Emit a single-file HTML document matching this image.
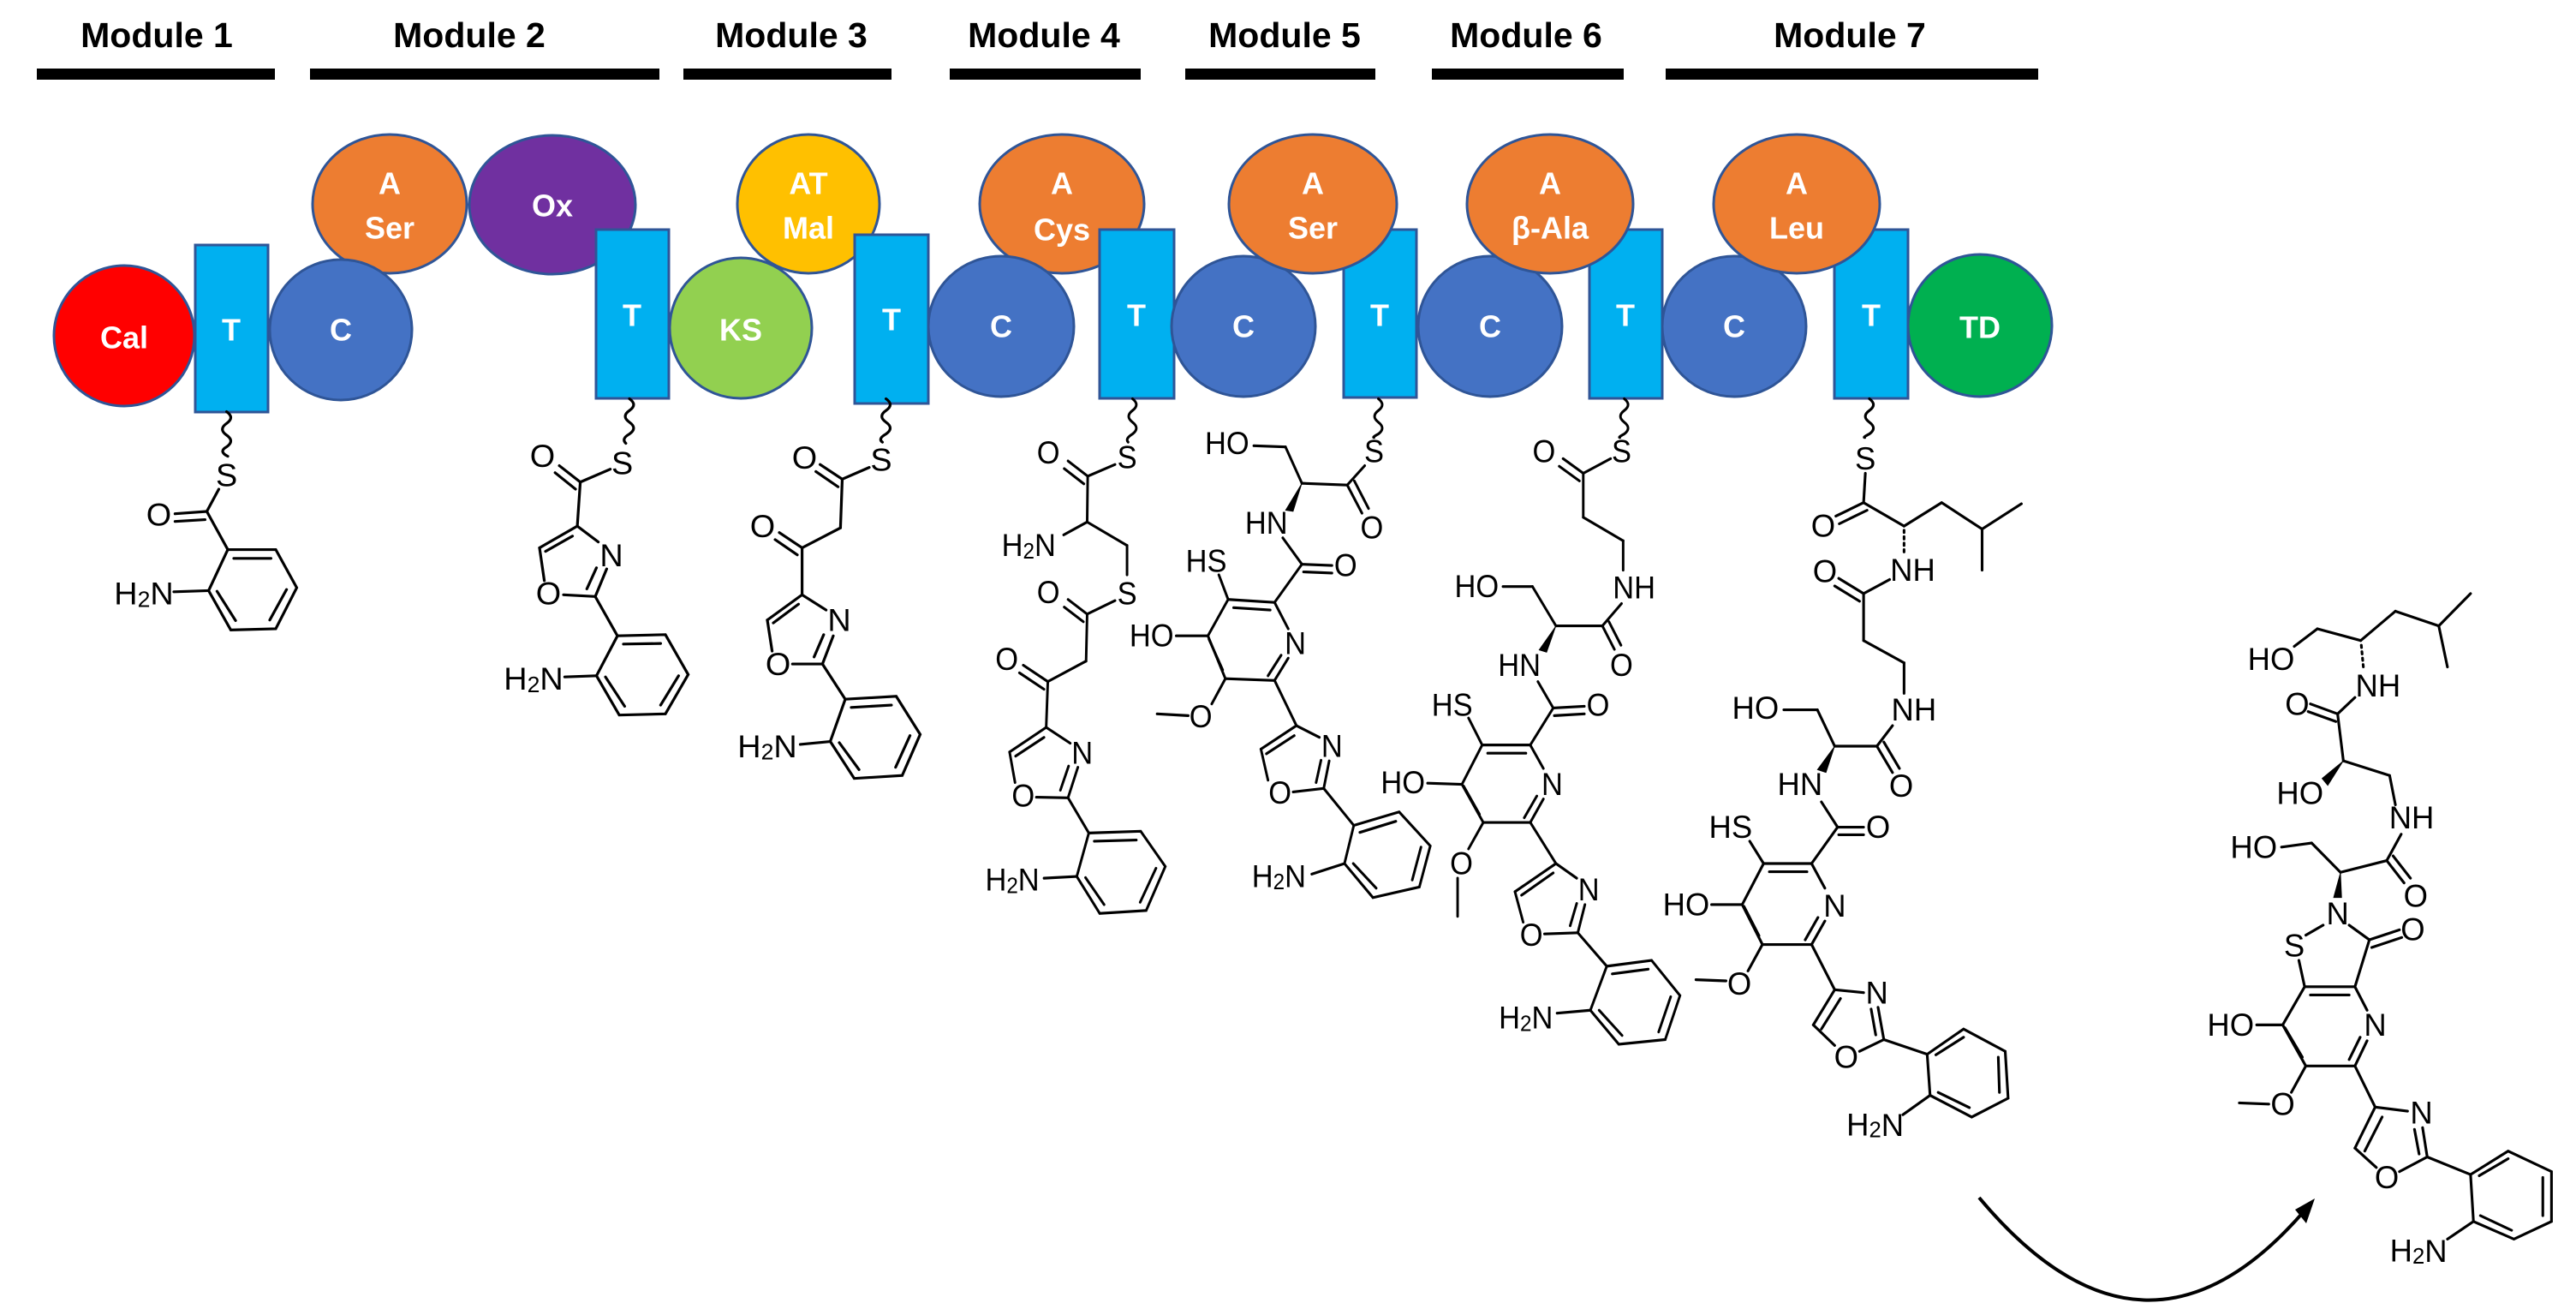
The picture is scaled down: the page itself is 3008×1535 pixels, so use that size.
<!DOCTYPE html>
<html><head><meta charset="utf-8"><style>
html,body{margin:0;padding:0;background:#fff}
svg{display:block}
.mt{font-family:"Liberation Sans",sans-serif;font-size:41px;font-weight:bold;fill:#000;text-anchor:middle}
.dl{font-family:"Liberation Sans",sans-serif;font-size:36px;font-weight:bold;fill:#fff;text-anchor:middle;dominant-baseline:central}
.c text{font-family:"Liberation Sans",sans-serif;font-size:54px;fill:#000;text-anchor:middle;dominant-baseline:central}
.c line,.c path,.c polyline,.c polygon{stroke:#000;stroke-width:4.6;fill:none;stroke-linecap:round}
.c polygon.w{fill:#000;stroke-width:1}
.c .h{stroke-dasharray:4 7}
</style></head><body>
<svg width="3008" height="1535" viewBox="0 0 3008 1535" xmlns="http://www.w3.org/2000/svg">
<g>
<text class="mt" x="183" y="55">Module 1</text>
<text class="mt" x="548" y="55">Module 2</text>
<text class="mt" x="924" y="55">Module 3</text>
<text class="mt" x="1219" y="55">Module 4</text>
<text class="mt" x="1500" y="55">Module 5</text>
<text class="mt" x="1782" y="55">Module 6</text>
<text class="mt" x="2160" y="55">Module 7</text>
<rect x="43" y="80" width="278" height="13"/>
<rect x="362" y="80" width="408" height="13"/>
<rect x="798" y="80" width="243" height="13"/>
<rect x="1109" y="80" width="223" height="13"/>
<rect x="1384" y="80" width="222" height="13"/>
<rect x="1672" y="80" width="224" height="13"/>
<rect x="1945" y="80" width="435" height="13"/>
</g>
<g stroke="#2f5597" stroke-width="3">
<ellipse cx="455" cy="238" rx="90" ry="81" fill="#ed7d31"/>
<ellipse cx="645" cy="239" rx="97" ry="81" fill="#7030a0"/>
<ellipse cx="944" cy="238" rx="83" ry="81" fill="#ffc000"/>
<ellipse cx="1240" cy="238" rx="96" ry="81" fill="#ed7d31"/>
<ellipse cx="145" cy="392" rx="82" ry="82" fill="#ff0000"/>
<rect x="228" y="286" width="85" height="195" fill="#00b0f0"/>
<ellipse cx="398" cy="385" rx="83" ry="82" fill="#4472c4"/>
<rect x="696" y="268" width="85" height="197" fill="#00b0f0"/>
<ellipse cx="865" cy="383" rx="83" ry="82" fill="#92d050"/>
<rect x="998" y="274" width="86" height="197" fill="#00b0f0"/>
<ellipse cx="1169" cy="381" rx="85" ry="82" fill="#4472c4"/>
<rect x="1284" y="268" width="87" height="197" fill="#00b0f0"/>
<ellipse cx="1452" cy="381" rx="84" ry="82" fill="#4472c4"/>
<rect x="1569" y="268" width="85" height="196" fill="#00b0f0"/>
<ellipse cx="1533" cy="238" rx="98" ry="81" fill="#ed7d31"/>
<ellipse cx="1740" cy="381" rx="84" ry="82" fill="#4472c4"/>
<rect x="1856" y="268" width="85" height="197" fill="#00b0f0"/>
<ellipse cx="1810" cy="238" rx="97" ry="81" fill="#ed7d31"/>
<ellipse cx="2025" cy="381" rx="84" ry="82" fill="#4472c4"/>
<rect x="2142" y="268" width="86" height="197" fill="#00b0f0"/>
<ellipse cx="2098" cy="238" rx="97" ry="81" fill="#ed7d31"/>
<ellipse cx="2312" cy="380" rx="84" ry="83" fill="#00b050"/>
</g>
<g>
<text class="dl" x="145" y="394">Cal</text>
<text class="dl" x="270" y="385">T</text>
<text class="dl" x="398" y="385">C</text>
<text class="dl" x="455" y="214">A</text>
<text class="dl" x="455" y="266">Ser</text>
<text class="dl" x="645" y="240">Ox</text>
<text class="dl" x="738" y="368">T</text>
<text class="dl" x="865" y="385">KS</text>
<text class="dl" x="944" y="214">AT</text>
<text class="dl" x="944" y="266">Mal</text>
<text class="dl" x="1041" y="373">T</text>
<text class="dl" x="1169" y="381">C</text>
<text class="dl" x="1240" y="214">A</text>
<text class="dl" x="1240" y="268">Cys</text>
<text class="dl" x="1327" y="368">T</text>
<text class="dl" x="1452" y="381">C</text>
<text class="dl" x="1533" y="214">A</text>
<text class="dl" x="1533" y="266">Ser</text>
<text class="dl" x="1611" y="368">T</text>
<text class="dl" x="1740" y="381">C</text>
<text class="dl" x="1810" y="214">A</text>
<text class="dl" x="1810" y="266">β-Ala</text>
<text class="dl" x="1898" y="368">T</text>
<text class="dl" x="2025" y="381">C</text>
<text class="dl" x="2098" y="214">A</text>
<text class="dl" x="2098" y="266">Leu</text>
<text class="dl" x="2185" y="368">T</text>
<text class="dl" x="2312" y="382">TD</text>
</g>

<g class="c" transform="translate(0,460) scale(0.70,0.685)">
<path d="M378,30 q14,10 0,20 q-14,10 0,20 q14,10 0,20 q-14,8 2,16"/>
<text x="378" y="138">S</text>
<line x1="365" y1="162" x2="345" y2="200"/>
<text x="265" y="205">O</text>
<line x1="345" y1="200" x2="292" y2="204"/><line x1="342" y1="214" x2="292" y2="217"/>
<line x1="345" y1="200" x2="380" y2="265"/>
<polygon points="380,265 460,265 495,330 460,400 385,402 348,335"/>
<line x1="390" y1="280" x2="452" y2="280"/><line x1="478" y1="333" x2="450" y2="385"/><line x1="393" y1="386" x2="362" y2="336"/>
<line x1="290" y1="337" x2="348" y2="335"/>
<text x="240" y="340">H<tspan font-size="38" dy="10">2</tspan><tspan dy="-10">N</tspan></text>
<path d="M1050,8 q14,10 0,20 q-14,10 0,20 q14,10 0,20 q-14,8 -6,16"/>
<text x="1038" y="118">S</text>
<line x1="1018" y1="128" x2="968" y2="150"/>
<text x="905" y="105">O</text>
<line x1="968" y1="150" x2="933" y2="122"/><line x1="960" y1="162" x2="926" y2="134"/>
<line x1="968" y1="150" x2="963" y2="225"/>
<text x="1020" y="275">N</text><text x="915" y="340">O</text>
<line x1="963" y1="225" x2="998" y2="252"/>
<line x1="963" y1="225" x2="900" y2="262"/><line x1="955" y1="242" x2="910" y2="268"/>
<line x1="900" y1="262" x2="908" y2="318"/>
<line x1="940" y1="342" x2="993" y2="345"/>
<line x1="993" y1="345" x2="1012" y2="298"/><line x1="979" y1="332" x2="995" y2="296"/>
<line x1="993" y1="345" x2="1030" y2="412"/>
<polygon points="1030,412 1110,410 1148,478 1110,545 1033,547 995,480"/>
<line x1="1040" y1="426" x2="1102" y2="425"/><line x1="1132" y1="480" x2="1102" y2="530"/><line x1="1042" y1="532" x2="1010" y2="482"/>
<line x1="942" y1="482" x2="995" y2="480"/>
<text x="890" y="485">H<tspan font-size="38" dy="10">2</tspan><tspan dy="-10">N</tspan></text>
<path d="M1478,8 q14,10 0,20 q-14,10 0,20 q14,10 0,20 q-14,8 -6,14"/>
<text x="1470" y="112">S</text>
<line x1="1450" y1="125" x2="1405" y2="145"/>
<text x="1342" y="108">O</text>
<line x1="1405" y1="145" x2="1368" y2="120"/><line x1="1398" y1="158" x2="1361" y2="132"/>
<line x1="1405" y1="145" x2="1402" y2="228"/>
<line x1="1402" y1="228" x2="1338" y2="262"/>
<text x="1272" y="225">O</text>
<line x1="1338" y1="262" x2="1300" y2="236"/><line x1="1330" y1="274" x2="1293" y2="248"/>
<line x1="1338" y1="262" x2="1338" y2="342"/>
<text x="1400" y="385">N</text><text x="1298" y="460">O</text>
<line x1="1338" y1="342" x2="1378" y2="368"/>
<line x1="1338" y1="342" x2="1280" y2="385"/><line x1="1332" y1="358" x2="1290" y2="390"/>
<line x1="1280" y1="385" x2="1288" y2="438"/>
<line x1="1322" y1="460" x2="1372" y2="460"/>
<line x1="1372" y1="460" x2="1390" y2="412"/><line x1="1358" y1="448" x2="1374" y2="410"/>
<line x1="1372" y1="460" x2="1410" y2="520"/>
<polygon points="1410,520 1495,515 1535,580 1505,650 1425,655 1385,592"/>
<line x1="1420" y1="534" x2="1487" y2="530"/><line x1="1518" y1="582" x2="1494" y2="636"/><line x1="1433" y1="640" x2="1400" y2="594"/>
<line x1="1335" y1="597" x2="1385" y2="592"/>
<text x="1280" y="600">H<tspan font-size="38" dy="10">2</tspan><tspan dy="-10">N</tspan></text>
</g>

<g class="c" transform="translate(1080,460) scale(0.638,0.685)">
<path d="M380,8 q14,10 0,20 q-14,10 0,20 q14,10 0,20 q-14,8 -8,14"/>
<text x="370" y="108">S</text>
<line x1="348" y1="120" x2="298" y2="140"/>
<text x="226" y="100">O</text>
<line x1="298" y1="140" x2="262" y2="114"/><line x1="291" y1="153" x2="255" y2="127"/>
<line x1="298" y1="140" x2="297" y2="218"/>
<line x1="297" y1="218" x2="254" y2="240"/>
<text x="190" y="258">H<tspan font-size="38" dy="10">2</tspan><tspan dy="-10">N</tspan></text>
<line x1="297" y1="218" x2="370" y2="258"/><line x1="370" y1="258" x2="370" y2="308"/>
<text x="370" y="340">S</text>
<line x1="348" y1="352" x2="297" y2="375"/>
<text x="226" y="338">O</text>
<line x1="297" y1="375" x2="262" y2="350"/><line x1="290" y1="388" x2="255" y2="363"/>
<line x1="297" y1="375" x2="295" y2="455"/><line x1="295" y1="455" x2="225" y2="490"/>
<text x="150" y="452">O</text>
<line x1="225" y1="490" x2="180" y2="462"/><line x1="218" y1="503" x2="173" y2="475"/>
<line x1="225" y1="490" x2="222" y2="568"/>
<text x="288" y="612">N</text><text x="180" y="685">O</text>
<line x1="222" y1="568" x2="266" y2="595"/>
<line x1="222" y1="568" x2="155" y2="610"/><line x1="218" y1="585" x2="166" y2="617"/>
<line x1="155" y1="610" x2="165" y2="662"/>
<line x1="204" y1="687" x2="262" y2="688"/>
<line x1="262" y1="688" x2="280" y2="636"/><line x1="248" y1="675" x2="263" y2="634"/>
<line x1="262" y1="688" x2="300" y2="748"/>
<polygon points="300,748 395,745 440,805 405,880 320,885 278,822"/>
<line x1="310" y1="762" x2="387" y2="760"/><line x1="423" y1="808" x2="394" y2="866"/><line x1="328" y1="870" x2="294" y2="824"/>
<line x1="218" y1="825" x2="278" y2="822"/>
<text x="160" y="828">H<tspan font-size="38" dy="10">2</tspan><tspan dy="-10">N</tspan></text>
<path d="M830,8 q14,10 0,20 q-14,10 0,20 q14,10 0,20 q-12,6 -8,6"/>
<text x="822" y="98">S</text>
<line x1="805" y1="122" x2="773" y2="155"/>
<text x="818" y="228">O</text>
<line x1="773" y1="155" x2="800" y2="203"/><line x1="786" y1="148" x2="812" y2="195"/>
<line x1="773" y1="155" x2="690" y2="152"/>
<line x1="690" y1="152" x2="660" y2="90"/><line x1="660" y1="90" x2="602" y2="88"/>
<text x="553" y="84">HO</text>
<polygon class="w" points="690,152 660,198 674,200"/>
<text x="625" y="220">HN</text>
<line x1="655" y1="245" x2="690" y2="290"/>
<text x="770" y="292">O</text>
<line x1="690" y1="290" x2="745" y2="292"/><line x1="693" y1="303" x2="745" y2="305"/>
<line x1="690" y1="290" x2="640" y2="355"/>
<text x="678" y="425">N</text>
<line x1="640" y1="355" x2="555" y2="350"/><line x1="632" y1="368" x2="565" y2="364"/>
<line x1="640" y1="355" x2="665" y2="400"/>
<line x1="665" y1="450" x2="640" y2="488"/><line x1="652" y1="445" x2="628" y2="480"/>
<line x1="640" y1="488" x2="550" y2="485"/>
<line x1="550" y1="485" x2="518" y2="412"/><line x1="545" y1="470" x2="520" y2="418"/>
<line x1="518" y1="412" x2="555" y2="350"/>
<text x="515" y="285">HS</text>
<line x1="538" y1="308" x2="555" y2="350"/>
<text x="415" y="412">HO</text>
<line x1="460" y1="412" x2="518" y2="412"/>
<line x1="550" y1="485" x2="525" y2="528"/>
<text x="505" y="550">O</text>
<line x1="482" y1="548" x2="425" y2="545"/>
<line x1="640" y1="488" x2="680" y2="565"/>
<text x="745" y="600">N</text><text x="650" y="680">O</text>
<line x1="680" y1="565" x2="722" y2="585"/>
<line x1="680" y1="565" x2="615" y2="605"/><line x1="676" y1="582" x2="625" y2="613"/>
<line x1="615" y1="605" x2="628" y2="658"/>
<line x1="674" y1="678" x2="730" y2="672"/>
<line x1="730" y1="672" x2="740" y2="625"/><line x1="716" y1="662" x2="725" y2="624"/>
<line x1="730" y1="672" x2="785" y2="735"/>
<polygon points="785,735 868,712 925,770 905,840 820,858 768,800"/>
<line x1="796" y1="747" x2="862" y2="728"/><line x1="908" y1="772" x2="892" y2="828"/><line x1="826" y1="842" x2="784" y2="800"/>
<line x1="708" y1="818" x2="768" y2="800"/>
<text x="648" y="822">H<tspan font-size="38" dy="10">2</tspan><tspan dy="-10">N</tspan></text>
<path d="M1280,8 q14,10 0,20 q-14,10 0,20 q14,10 0,20 q-12,6 -8,6"/>
<text x="1275" y="98">S</text>
<line x1="1255" y1="110" x2="1205" y2="135"/>
<text x="1133" y="98">O</text>
<line x1="1205" y1="135" x2="1168" y2="110"/><line x1="1198" y1="148" x2="1161" y2="123"/>
<line x1="1205" y1="135" x2="1205" y2="210"/><line x1="1205" y1="210" x2="1278" y2="250"/><line x1="1278" y1="250" x2="1278" y2="300"/>
<text x="1298" y="330">NH</text>
<line x1="1275" y1="357" x2="1240" y2="395"/>
<text x="1275" y="462">O</text>
<line x1="1240" y1="395" x2="1262" y2="435"/><line x1="1252" y1="388" x2="1274" y2="428"/>
<line x1="1240" y1="395" x2="1155" y2="395"/>
<line x1="1155" y1="395" x2="1112" y2="328"/><line x1="1112" y1="328" x2="1058" y2="328"/>
<text x="1010" y="328">HO</text>
<polygon class="w" points="1155,395 1124,436 1138,440"/>
<text x="1088" y="462">HN</text>
<line x1="1122" y1="490" x2="1150" y2="535"/>
<text x="1232" y="530">O</text>
<line x1="1150" y1="535" x2="1207" y2="532"/><line x1="1152" y1="548" x2="1207" y2="545"/>
<line x1="1150" y1="535" x2="1108" y2="598"/>
<text x="1148" y="665">N</text>
<line x1="1108" y1="598" x2="1020" y2="598"/><line x1="1100" y1="612" x2="1030" y2="612"/>
<line x1="1108" y1="598" x2="1132" y2="638"/>
<line x1="1132" y1="690" x2="1108" y2="730"/><line x1="1120" y1="685" x2="1097" y2="722"/>
<line x1="1108" y1="730" x2="1022" y2="730"/>
<line x1="1022" y1="730" x2="983" y2="665"/><line x1="1015" y1="716" x2="986" y2="668"/>
<line x1="983" y1="665" x2="1020" y2="598"/>
<text x="965" y="530">HS</text>
<line x1="995" y1="552" x2="1020" y2="598"/>
<text x="875" y="662">HO</text>
<line x1="920" y1="663" x2="983" y2="665"/>
<line x1="1022" y1="730" x2="995" y2="775"/>
<text x="982" y="800">O</text>
<line x1="975" y1="825" x2="975" y2="890"/>
<line x1="1108" y1="730" x2="1155" y2="800"/>
<text x="1215" y="845">N</text><text x="1110" y="922">O</text>
<line x1="1155" y1="800" x2="1193" y2="825"/>
<line x1="1155" y1="800" x2="1080" y2="848"/><line x1="1150" y1="816" x2="1092" y2="854"/>
<line x1="1080" y1="848" x2="1095" y2="900"/>
<line x1="1134" y1="920" x2="1195" y2="918"/>
<line x1="1195" y1="918" x2="1208" y2="870"/><line x1="1181" y1="906" x2="1193" y2="868"/>
<line x1="1195" y1="918" x2="1248" y2="975"/>
<polygon points="1248,975 1330,965 1382,1025 1355,1100 1270,1108 1218,1050"/>
<line x1="1258" y1="988" x2="1324" y2="980"/><line x1="1365" y1="1027" x2="1343" y2="1087"/><line x1="1276" y1="1093" x2="1234" y2="1050"/>
<line x1="1157" y1="1055" x2="1218" y2="1050"/>
<text x="1100" y="1063">H<tspan font-size="38" dy="10">2</tspan><tspan dy="-10">N</tspan></text>
</g>

<g class="c" transform="translate(1950,460) scale(0.675,0.685)">
<path d="M345,8 q14,10 0,20 q-14,10 0,20 q14,10 0,20 q-12,6 -8,6"/>
<text x="338" y="110">S</text>
<line x1="338" y1="135" x2="335" y2="185"/>
<text x="265" y="225">O</text>
<line x1="335" y1="185" x2="287" y2="208"/><line x1="341" y1="198" x2="293" y2="221"/>
<line x1="335" y1="185" x2="405" y2="225"/>
<line x1="405" y1="225" x2="470" y2="185"/><line x1="470" y1="185" x2="540" y2="230"/>
<line x1="540" y1="230" x2="608" y2="187"/><line x1="540" y1="230" x2="540" y2="300"/>
<line class="h" x1="405" y1="232" x2="405" y2="272"/>
<text x="420" y="300">NH</text>
<line x1="380" y1="316" x2="335" y2="340"/>
<text x="268" y="302">O</text>
<line x1="335" y1="340" x2="292" y2="314"/><line x1="328" y1="353" x2="285" y2="327"/>
<line x1="335" y1="340" x2="335" y2="420"/><line x1="335" y1="420" x2="405" y2="458"/><line x1="405" y1="458" x2="405" y2="510"/>
<text x="422" y="538">NH</text>
<line x1="385" y1="565" x2="358" y2="600"/>
<text x="400" y="668">O</text>
<line x1="358" y1="600" x2="385" y2="645"/><line x1="370" y1="593" x2="397" y2="638"/>
<line x1="358" y1="600" x2="285" y2="600"/>
<line x1="285" y1="600" x2="255" y2="538"/><line x1="255" y1="538" x2="197" y2="538"/>
<text x="148" y="535">HO</text>
<polygon class="w" points="285,600 255,640 270,645"/>
<text x="225" y="665">HN</text>
<line x1="262" y1="695" x2="290" y2="738"/>
<text x="360" y="738">O</text>
<line x1="290" y1="738" x2="335" y2="738"/><line x1="292" y1="751" x2="335" y2="751"/>
<line x1="290" y1="738" x2="245" y2="800"/>
<text x="285" y="872">N</text>
<line x1="245" y1="800" x2="162" y2="800"/><line x1="237" y1="814" x2="172" y2="814"/>
<line x1="245" y1="800" x2="268" y2="842"/>
<line x1="268" y1="898" x2="245" y2="938"/><line x1="256" y1="892" x2="234" y2="930"/>
<line x1="245" y1="938" x2="160" y2="938"/>
<line x1="160" y1="938" x2="125" y2="870"/><line x1="154" y1="923" x2="128" y2="873"/>
<line x1="125" y1="870" x2="162" y2="800"/>
<text x="105" y="738">HS</text>
<line x1="138" y1="762" x2="162" y2="800"/>
<text x="28" y="870">HO</text>
<line x1="72" y1="870" x2="125" y2="870"/>
<line x1="160" y1="938" x2="135" y2="983"/>
<text x="120" y="1005">O</text>
<line x1="97" y1="1000" x2="45" y2="998"/>
<line x1="245" y1="938" x2="285" y2="1015"/>
<text x="358" y="1020">N</text><text x="305" y="1130">O</text>
<line x1="285" y1="1015" x2="335" y2="1020"/>
<line x1="285" y1="1015" x2="248" y2="1075"/><line x1="295" y1="1030" x2="262" y2="1082"/>
<line x1="248" y1="1075" x2="285" y2="1110"/>
<line x1="328" y1="1120" x2="370" y2="1100"/>
<line x1="370" y1="1100" x2="360" y2="1045"/><line x1="356" y1="1092" x2="348" y2="1048"/>
<line x1="370" y1="1100" x2="445" y2="1125"/>
<polygon points="445,1125 508,1082 580,1120 585,1200 522,1232 450,1195"/>
<line x1="460" y1="1126" x2="508" y2="1096"/><line x1="568" y1="1130" x2="570" y2="1190"/><line x1="518" y1="1216" x2="464" y2="1190"/>
<line x1="403" y1="1228" x2="450" y2="1195"/>
<text x="355" y="1245">H<tspan font-size="38" dy="10">2</tspan><tspan dy="-10">N</tspan></text>

<text x="1040" y="452">HO</text>
<line x1="1080" y1="430" x2="1120" y2="400"/><line x1="1120" y1="400" x2="1195" y2="420"/>
<line x1="1195" y1="420" x2="1255" y2="370"/><line x1="1255" y1="370" x2="1330" y2="395"/>
<line x1="1330" y1="395" x2="1385" y2="340"/><line x1="1330" y1="395" x2="1345" y2="465"/>
<line class="h" x1="1196" y1="428" x2="1200" y2="470"/>
<text x="1225" y="497">NH</text>
<line x1="1185" y1="517" x2="1155" y2="545"/>
<text x="1085" y="528">O</text>
<line x1="1155" y1="545" x2="1108" y2="528"/><line x1="1152" y1="558" x2="1104" y2="541"/>
<line x1="1155" y1="545" x2="1165" y2="625"/>
<polygon class="w" points="1165,625 1128,655 1138,667"/>
<text x="1090" y="680">HO</text>
<line x1="1165" y1="625" x2="1245" y2="650"/><line x1="1245" y1="650" x2="1255" y2="700"/>
<text x="1283" y="722">NH</text>
<line x1="1265" y1="750" x2="1240" y2="795"/>
<text x="1290" y="855">O</text>
<line x1="1240" y1="795" x2="1270" y2="833"/><line x1="1251" y1="787" x2="1281" y2="825"/>
<line x1="1240" y1="795" x2="1160" y2="815"/>
<line x1="1160" y1="815" x2="1110" y2="765"/><line x1="1110" y1="765" x2="1058" y2="772"/>
<text x="1010" y="772">HO</text>
<polygon class="w" points="1160,815 1148,858 1162,858"/>
<text x="1155" y="885">N</text>
<text x="1080" y="940">S</text>
<line x1="1100" y1="922" x2="1130" y2="905"/>
<line x1="1175" y1="905" x2="1210" y2="930"/>
<text x="1285" y="912">O</text>
<line x1="1210" y1="930" x2="1262" y2="913"/><line x1="1214" y1="943" x2="1266" y2="926"/>
<line x1="1210" y1="930" x2="1185" y2="1010"/>
<line x1="1088" y1="965" x2="1098" y2="1010"/>
<line x1="1098" y1="1010" x2="1185" y2="1010"/><line x1="1108" y1="1024" x2="1175" y2="1024"/>
<text x="1220" y="1075">N</text>
<line x1="1185" y1="1010" x2="1206" y2="1050"/>
<line x1="1206" y1="1102" x2="1185" y2="1145"/><line x1="1194" y1="1096" x2="1175" y2="1134"/>
<line x1="1185" y1="1145" x2="1100" y2="1145"/>
<line x1="1100" y1="1145" x2="1060" y2="1075"/><line x1="1094" y1="1130" x2="1064" y2="1080"/>
<line x1="1060" y1="1075" x2="1098" y2="1010"/>
<text x="970" y="1075">HO</text>
<line x1="1015" y1="1075" x2="1060" y2="1075"/>
<line x1="1100" y1="1145" x2="1075" y2="1190"/>
<text x="1060" y="1210">O</text>
<line x1="1036" y1="1210" x2="985" y2="1208"/>
<line x1="1185" y1="1145" x2="1220" y2="1215"/>
<text x="1300" y="1225">N</text><text x="1240" y="1335">O</text>
<line x1="1220" y1="1215" x2="1276" y2="1222"/>
<line x1="1220" y1="1215" x2="1185" y2="1285"/><line x1="1232" y1="1232" x2="1202" y2="1290"/>
<line x1="1185" y1="1285" x2="1222" y2="1318"/>
<line x1="1262" y1="1325" x2="1310" y2="1300"/>
<line x1="1310" y1="1300" x2="1302" y2="1250"/><line x1="1296" y1="1295" x2="1288" y2="1253"/>
<line x1="1310" y1="1300" x2="1385" y2="1330"/>
<polygon points="1385,1330 1450,1290 1525,1325 1525,1410 1460,1440 1390,1410"/>
<line x1="1400" y1="1332" x2="1450" y2="1303"/><line x1="1510" y1="1335" x2="1510" y2="1400"/><line x1="1456" y1="1425" x2="1402" y2="1400"/>
<line x1="1345" y1="1440" x2="1390" y2="1410"/>
<text x="1295" y="1460">H<tspan font-size="38" dy="10">2</tspan><tspan dy="-10">N</tspan></text>
</g>

<path d="M2311,1398 Q2505,1630 2692,1412" stroke="#000" stroke-width="4" fill="none"/>
<polygon points="2703,1399 2680,1412 2693,1428" fill="#000"/>
</svg>
</body></html>
